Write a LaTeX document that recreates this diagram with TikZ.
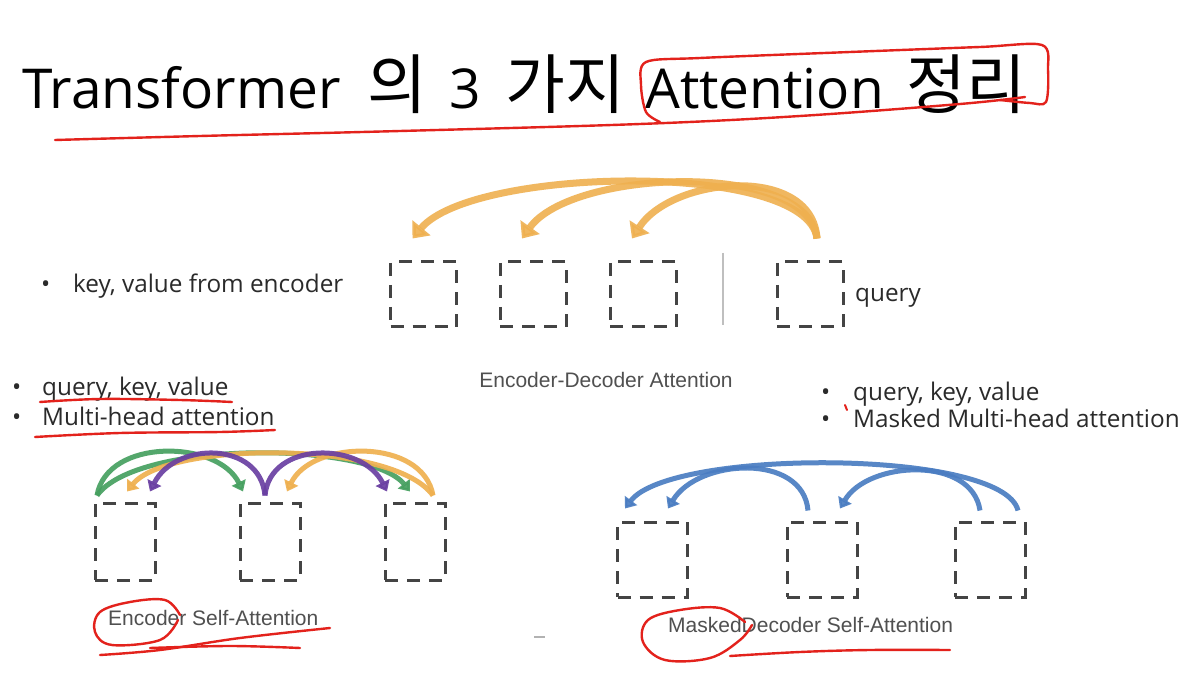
\documentclass[tikz,border=0pt]{standalone}
\usepackage{fontspec}
\setmainfont{Open Sans}
\newfontfamily\kr{Noto Sans CJK KR}
\newfontfamily\lab{Liberation Sans}
\usetikzlibrary{arrows.meta}

\definecolor{boxgrey}{HTML}{444444}
\definecolor{txt}{HTML}{2A2A2A}
\definecolor{labgrey}{HTML}{505050}
\definecolor{ink}{HTML}{E3221C}
\definecolor{gold}{HTML}{EFB04F}
\definecolor{grn}{HTML}{46A060}
\definecolor{prp}{HTML}{6A3FA2}
\definecolor{blu}{HTML}{4A7DC2}

\newcommand{\krw}[1]{{\kr\fontsize{65}{68}\selectfont #1}}

\tikzset{
  slot/.style={draw=boxgrey, line width=3pt, dash pattern=on 13pt off 9pt,
    inner sep=0pt, minimum width=66pt, minimum height=65pt},
  bigarr/.style={draw=gold, line width=7pt, opacity=0.9,
    -{Triangle[width=23pt,length=14pt]}},
  smallarr/.style={line width=5pt, opacity=0.92,
    -{Triangle[width=15pt,length=10pt]}},
  bullet/.style={font=\fontsize{24.3}{28}\selectfont, text=txt, anchor=base west, inner sep=0pt},
  caption/.style={font=\lab\fontsize{21}{24}\selectfont, text=labgrey, inner sep=0pt},
  pen/.style={draw=ink, line width=2.4pt, line cap=round, line join=round}
}

\begin{document}
\begin{tikzpicture}[x=1pt,y=-1pt]
\useasboundingbox[fill=white] (0,0) rectangle (1196,692);

% ---------- title ----------
\node[anchor=base west, inner sep=0pt, text=black,
      font=\fontsize{55}{60}\selectfont] (title) at (22,109)
  {\makebox[345pt][l]{Transformer}\makebox[82pt][l]{\krw{의}}\makebox[56pt][l]{3}\makebox[140pt][l]{\krw{가지}}\makebox[261pt][l]{Attention}\krw{정리}};

% ---------- encoder-decoder attention ----------
\node[slot] (d1) at (423.5,294.5) {};
\node[slot] (d2) at (533,294.5) {};
\node[slot] (d3) at (643,294.5) {};
\node[slot] (d4) at (810,294.5) {};
\coordinate (sepTop) at (723,253);
\coordinate (sepBot) at (723,325);
\draw[draw=black!25, line width=1.5pt] (sepTop) -- (sepBot);

\draw[bigarr] ([xshift=7pt,yshift=22pt]d4.north) .. controls +(-10,-78) and +(60,-72) .. ([xshift=-11pt,yshift=22pt]d1.north);
\draw[bigarr] ([xshift=7pt,yshift=22pt]d4.north) .. controls +(-8,-78) and +(50,-70) .. ([xshift=-11pt,yshift=22pt]d2.north);
\draw[bigarr] ([xshift=7pt,yshift=22pt]d4.north) .. controls +(-5,-75) and +(40,-62) .. ([xshift=-11pt,yshift=22pt]d3.north);

\node[bullet] (kv) at (41,293) {\makebox[32pt][l]{•}key, value from encoder};
\node[bullet] (q) at (855,302) {query};
\node[caption, anchor=base] (edcap) at (606,387) {Encoder-Decoder Attention};

% ---------- encoder self-attention ----------
\node[slot, minimum width=60pt, minimum height=77pt] (b1) at (125,541.5) {};
\node[slot, minimum width=60pt, minimum height=77pt] (b2) at (270,541.5) {};
\node[slot, minimum width=60pt, minimum height=77pt] (b3) at (415,541.5) {};

% green: from the first position
\draw[smallarr, draw=grn] ([xshift=-28pt,yshift=6pt]b1.north) .. controls +(10,-58) and +(-25,-52) .. ([xshift=-27pt,yshift=10pt]b2.north);
\draw[smallarr, draw=grn] ([xshift=-28pt,yshift=6pt]b1.north) .. controls +(40,-56) and +(-40,-50) .. ([xshift=-5pt,yshift=10pt]b3.north);
% orange: from the third position
\draw[smallarr, draw=gold] ([xshift=18pt,yshift=6pt]b3.north) .. controls +(-10,-58) and +(25,-52) .. ([xshift=17pt,yshift=10pt]b2.north);
\draw[smallarr, draw=gold] ([xshift=18pt,yshift=6pt]b3.north) .. controls +(-40,-56) and +(40,-50) .. ([xshift=2pt,yshift=10pt]b1.north);
% purple: from the second position
\draw[smallarr, draw=prp] ([xshift=-5pt,yshift=6pt]b2.north) .. controls +(-5,-55) and +(25,-50) .. ([xshift=25pt,yshift=10pt]b1.north);
\draw[smallarr, draw=prp] ([xshift=-5pt,yshift=6pt]b2.north) .. controls +(5,-55) and +(-25,-50) .. ([xshift=-28pt,yshift=10pt]b3.north);

\node[bullet] (l1) at (12,395) {\makebox[30pt][l]{•}query, key, value};
\node[bullet] (l2) at (12,425) {\makebox[30pt][l]{•}Multi-head attention};
\node[caption, anchor=base west] (escap) at (108,625) {Encoder Self-Attention};

% ---------- masked decoder self-attention ----------
\node[slot, minimum width=70pt, minimum height=75pt] (c1) at (652.5,559.5) {};
\node[slot, minimum width=70pt, minimum height=75pt] (c2) at (822,559.5) {};
\node[slot, minimum width=70pt, minimum height=75pt] (c3) at (990,559.5) {};

\draw[smallarr, draw=blu] ([xshift=28pt,yshift=10pt]c3.north) .. controls +(-15,-62) and +(45,-60) .. ([xshift=-27.5pt,yshift=12pt]c1.north);
\draw[smallarr, draw=blu] ([xshift=-10pt,yshift=10pt]c3.north) .. controls +(-8,-55) and +(28,-48) .. ([xshift=18pt,yshift=12pt]c2.north);
\draw[smallarr, draw=blu] ([xshift=-14pt,yshift=10pt]c2.north) .. controls +(-5,-58) and +(30,-50) .. ([xshift=15.5pt,yshift=12pt]c1.north);

\node[bullet] (r1) at (821,400) {\makebox[32pt][l]{•}query, key, value};
\node[bullet] (r2) at (821,427) {\makebox[32pt][l]{•}Masked Multi-head attention};
\node[caption, anchor=base west] (mdcap) at (668,632) {MaskedDecoder Self-Attention};

\coordinate (dashL) at (534,637);
\coordinate (dashR) at (545,637);
\draw[draw=black!30, line width=1.5pt] (dashL) -- (dashR);

% ---------- red pen marks ----------
\draw[pen] plot[smooth, tension=0.6] coordinates {(55,140) (200,136) (400,131) (640,124) (800,116) (960,104) (1025,97)};
\draw[pen] plot[smooth, tension=0.5] coordinates {(660,122) (646,112) (641,85) (646,62) (700,58) (850,52) (980,47) (1042,45) (1048,70) (1046,102) (1030,103) (1000,100)};
\draw[pen] plot[smooth, tension=0.6] coordinates {(40,402) (100,399) (180,400) (232,402)};
\draw[pen] plot[smooth, tension=0.6] coordinates {(35,437) (120,433) (220,432) (275,430)};
\draw[pen] plot[smooth, tension=0.6] coordinates {(180,615) (165,600) (130,602) (100,612) (95,632) (112,645) (160,640) (178,620)};
\draw[pen] plot[smooth, tension=0.6] coordinates {(100,655) (160,650) (240,638) (330,628)};
\draw[pen] plot[smooth, tension=0.6] coordinates {(150,648) (230,646) (300,648)};
\draw[pen] plot[smooth, tension=0.6] coordinates {(745,622) (720,608) (680,610) (648,620) (643,642) (665,660) (710,658) (740,640) (752,625)};
\draw[pen] plot[smooth, tension=0.6] coordinates {(730,656) (800,652) (870,650) (950,650)};
\draw[pen, line width=2pt] (845,405) -- (847,410);
\end{tikzpicture}
\end{document}
